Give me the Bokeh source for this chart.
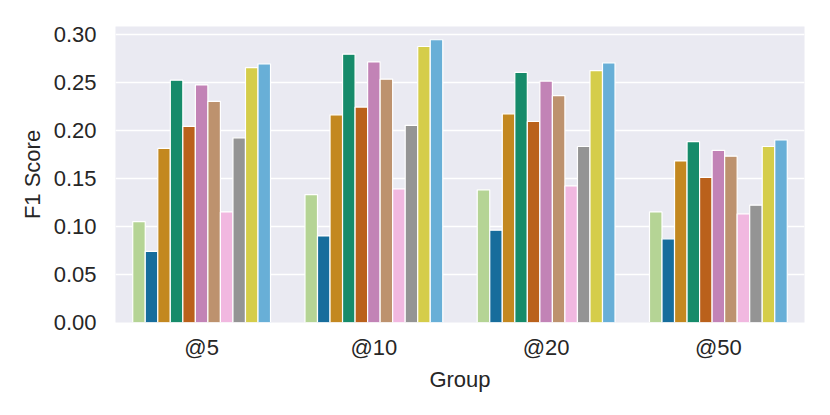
from bokeh.plotting import figure
from bokeh.models import ColumnDataSource, FactorRange, Range1d, FixedTicker, NumeralTickFormatter
from bokeh.transform import dodge
from bokeh.embed import file_html
from bokeh.resources import INLINE

groups = ["@5", "@10", "@20", "@50"]

m01 = [0.105, 0.133, 0.138, 0.115]
m02 = [0.074, 0.090, 0.096, 0.087]
m03 = [0.181, 0.216, 0.217, 0.168]
m04 = [0.252, 0.279, 0.260, 0.188]
m05 = [0.204, 0.224, 0.209, 0.151]
m06 = [0.247, 0.271, 0.251, 0.179]
m07 = [0.230, 0.253, 0.236, 0.173]
m08 = [0.115, 0.139, 0.142, 0.113]
m09 = [0.192, 0.205, 0.183, 0.122]
m10 = [0.265, 0.287, 0.262, 0.183]
m11 = [0.269, 0.294, 0.270, 0.190]

series_names = ["m01", "m02", "m03", "m04", "m05", "m06", "m07", "m08", "m09", "m10", "m11"]
series_values = [m01, m02, m03, m04, m05, m06, m07, m08, m09, m10, m11]
colors = ["#b5d495", "#176d9c", "#c38820", "#168b6a", "#ba611b", "#c283b6",
          "#bd926e", "#f1b8e0", "#949494", "#d5cd4a", "#68afd7"]

y_ticks = [0.0, 0.05, 0.10, 0.15, 0.20, 0.25, 0.30]

data = {"group": groups}
for n, v in zip(series_names, series_values):
    data[n] = v
src = ColumnDataSource(data)

p = figure(x_range=FactorRange(*groups, range_padding=0), y_range=Range1d(0, 0.3078),
           width=814, height=398, output_backend="svg", toolbar_location=None,
           min_border_left=115, min_border_right=10, min_border_top=26, min_border_bottom=76)

p.background_fill_color = "#eaeaf2"
p.border_fill_color = "white"
p.outline_line_color = None

n = len(series_names)
bw = 0.8 / n
for i, (name, col) in enumerate(zip(series_names, colors)):
    off = -0.4 + (i + 0.5) * bw
    p.vbar(x=dodge("group", off, range=p.x_range), top=name, width=bw, source=src,
           fill_color=col, line_color="white", line_width=1.2)

p.xgrid.grid_line_color = None
p.ygrid.grid_line_color = "white"
p.ygrid.grid_line_width = 1.6
p.yaxis.ticker = FixedTicker(ticks=y_ticks)
p.yaxis.formatter = NumeralTickFormatter(format="0.00")

font = "Liberation Sans"
for ax in (p.xaxis[0], p.yaxis[0]):
    ax.axis_line_color = None
    ax.major_tick_line_color = None
    ax.minor_tick_line_color = None
    ax.major_tick_out = 0
    ax.major_tick_in = 0
    ax.major_label_text_font = font
    ax.major_label_text_font_size = "22px"
    ax.major_label_text_color = "#262626"
    ax.axis_label_text_font = font
    ax.axis_label_text_font_size = "22px"
    ax.axis_label_text_color = "#262626"
    ax.axis_label_text_font_style = "normal"

p.xaxis.axis_label = "Group"
p.yaxis.axis_label = "F1 Score"
p.xaxis.major_label_standoff = 12
p.yaxis.major_label_standoff = 19
p.xaxis.axis_label_standoff = 4
p.yaxis.axis_label_standoff = 6

open("out.html", "w").write(file_html(p, INLINE))
